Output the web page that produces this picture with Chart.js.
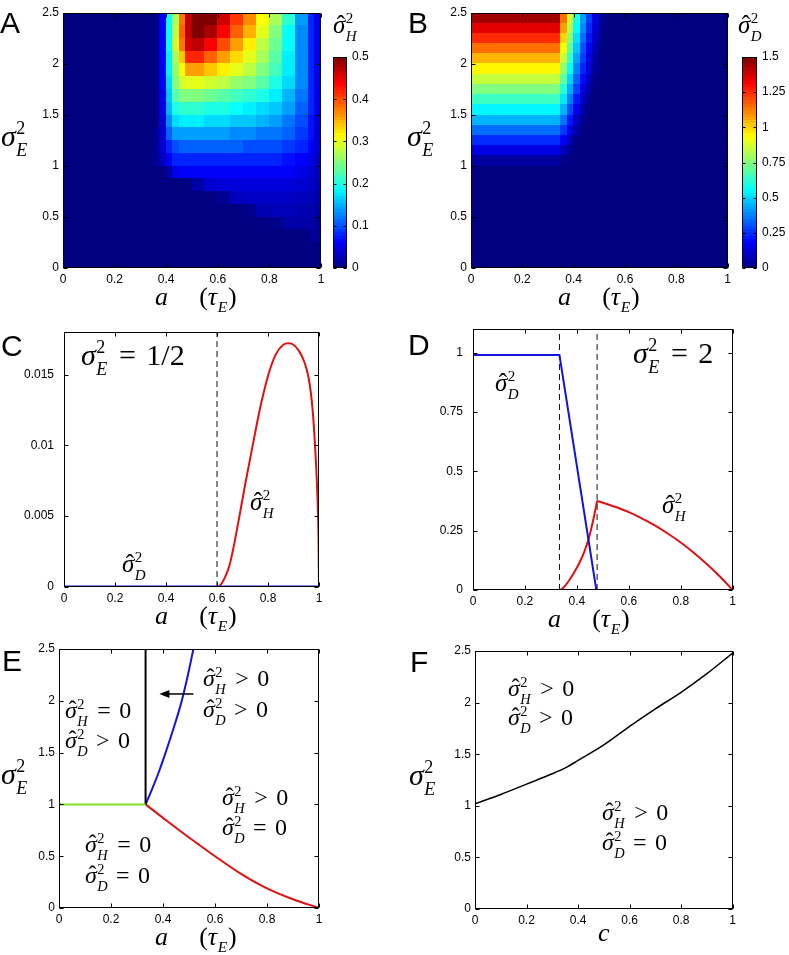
<!DOCTYPE html>
<html><head><meta charset="utf-8">
<script src="https://cdn.jsdelivr.net/npm/chart.js@4.4.0/dist/chart.umd.min.js"></script>
<style>
html,body{margin:0;padding:0;background:#fff;}
body{width:789px;height:955px;position:relative;overflow:hidden;}
canvas{position:absolute;}
.pl{position:absolute;font-family:'Liberation Sans',Arial,sans-serif;line-height:1;color:#000;font-size:30px;white-space:nowrap;}
.lab{position:absolute;font-family:'Liberation Serif','DejaVu Serif',serif;font-style:italic;line-height:1;white-space:nowrap;color:#000;}
.scr{position:relative;display:inline-block;height:0;vertical-align:baseline;}
.sp,.sb{position:absolute;left:0.03em;font-size:0.6em;line-height:1;}
.sp{bottom:0.47em;font-style:normal;}
.sb{bottom:-0.75em;}
.rm{font-style:normal;}
.op{font-style:normal;margin:0 0.35em;}
.hat{position:relative;}
.hc{position:absolute;left:0.15em;top:0.02em;font-style:normal;}
</style></head><body>
<canvas id="cA" width="330" height="295" style="left:0px;top:0px"></canvas>
<canvas id="cAcb" width="64" height="295" style="left:325px;top:0px"></canvas>
<canvas id="cB" width="340" height="295" style="left:395px;top:0px"></canvas>
<canvas id="cBcb" width="55" height="295" style="left:734px;top:0px"></canvas>
<canvas id="cC" width="330" height="320" style="left:0px;top:300px"></canvas>
<canvas id="cD" width="345" height="320" style="left:395px;top:300px"></canvas>
<canvas id="cE" width="330" height="330" style="left:0px;top:610px"></canvas>
<canvas id="cF" width="345" height="330" style="left:395px;top:610px"></canvas>
<div id="labels"></div>
<script>
// ---------------- DATA ----------------
const aTicks = [0, 0.2, 0.4, 0.6, 0.8, 1];
const s2Ticks = [0, 0.5, 1, 1.5, 2, 2.5];
const cbTicksA = [0, 0.1, 0.2, 0.3, 0.4, 0.5];
const cbTicksB = [0, 0.25, 0.5, 0.75, 1, 1.25, 1.5];
const cTicksY = [0, 0.005, 0.01, 0.015];
const dTicksY = [0, 0.25, 0.5, 0.75, 1];

// Panel A heatmap: sigma_H^2 (cell edges in a, cell edges in sigma_E^2 from top)
const xEdgesA = [0, 0.35, 0.375, 0.4, 0.425, 0.45, 0.475, 0.5, 0.55, 0.6, 0.65, 0.7, 0.75, 0.8, 0.85, 0.9, 0.95, 0.975, 1.0];
const yEdgesA = [2.5, 2.375, 2.25, 2.125, 2.0, 1.875, 1.75, 1.625, 1.5, 1.375, 1.25, 1.125, 1.0, 0.875, 0.75, 0.625, 0.5, 0.375, 0.25, 0.125, 0];
const hatH_A = [
 [0, 0, 0.06, 0.19, 0.27, 0.38, 0.47, 0.5, 0.5, 0.46, 0.41, 0.37, 0.31, 0.27, 0.21, 0.14, 0.08, 0.05],
 [0, 0, 0.06, 0.19, 0.28, 0.39, 0.47, 0.5, 0.48, 0.44, 0.39, 0.35, 0.3, 0.25, 0.19, 0.13, 0.08, 0.05],
 [0, 0, 0.06, 0.19, 0.29, 0.38, 0.46, 0.47, 0.44, 0.4, 0.36, 0.32, 0.28, 0.24, 0.19, 0.13, 0.08, 0.05],
 [0, 0, 0.06, 0.18, 0.27, 0.34, 0.42, 0.42, 0.39, 0.36, 0.33, 0.3, 0.27, 0.23, 0.18, 0.13, 0.08, 0.05],
 [0, 0, 0.06, 0.18, 0.26, 0.31, 0.36, 0.36, 0.34, 0.32, 0.3, 0.28, 0.25, 0.22, 0.18, 0.13, 0.08, 0.05],
 [0, 0, 0.06, 0.17, 0.25, 0.29, 0.3, 0.3, 0.29, 0.28, 0.26, 0.25, 0.23, 0.2, 0.17, 0.13, 0.08, 0.05],
 [0, 0, 0.05, 0.16, 0.23, 0.25, 0.25, 0.25, 0.24, 0.23, 0.22, 0.21, 0.2, 0.18, 0.15, 0.12, 0.08, 0.05],
 [0, 0, 0.05, 0.15, 0.2, 0.21, 0.21, 0.21, 0.2, 0.2, 0.19, 0.18, 0.17, 0.16, 0.14, 0.11, 0.08, 0.05],
 [0, 0, 0.04, 0.13, 0.17, 0.18, 0.18, 0.18, 0.17, 0.17, 0.16, 0.16, 0.15, 0.14, 0.12, 0.1, 0.07, 0.04],
 [0, 0.01, 0.04, 0.11, 0.14, 0.14, 0.14, 0.14, 0.14, 0.14, 0.13, 0.13, 0.12, 0.12, 0.11, 0.09, 0.07, 0.04],
 [0, 0.01, 0.04, 0.08, 0.1, 0.11, 0.11, 0.11, 0.11, 0.11, 0.11, 0.1, 0.1, 0.1, 0.09, 0.08, 0.06, 0.04],
 [0, 0.01, 0.03, 0.06, 0.08, 0.08, 0.08, 0.08, 0.08, 0.08, 0.08, 0.08, 0.08, 0.08, 0.07, 0.06, 0.05, 0.03],
 [0, 0, 0, 0.02, 0.05, 0.06, 0.06, 0.06, 0.06, 0.06, 0.06, 0.06, 0.06, 0.06, 0.06, 0.05, 0.04, 0.03],
 [0, 0, 0, 0, 0, 0, 0, 0.02, 0.04, 0.045, 0.045, 0.045, 0.045, 0.045, 0.045, 0.04, 0.035, 0.025],
 [0, 0, 0, 0, 0, 0, 0, 0, 0, 0.01, 0.03, 0.035, 0.035, 0.035, 0.035, 0.03, 0.028, 0.02],
 [0, 0, 0, 0, 0, 0, 0, 0, 0, 0, 0, 0.005, 0.025, 0.028, 0.028, 0.025, 0.022, 0.015],
 [0, 0, 0, 0, 0, 0, 0, 0, 0, 0, 0, 0, 0, 0.005, 0.02, 0.02, 0.018, 0.012],
 [0, 0, 0, 0, 0, 0, 0, 0, 0, 0, 0, 0, 0, 0, 0, 0, 0.01, 0.01],
 [0, 0, 0, 0, 0, 0, 0, 0, 0, 0, 0, 0, 0, 0, 0, 0, 0, 0],
 [0, 0, 0, 0, 0, 0, 0, 0, 0, 0, 0, 0, 0, 0, 0, 0, 0, 0]
];

// Panel B heatmap: sigma_D^2
const xEdgesB = [0, 0.35, 0.375, 0.4, 0.425, 0.45, 0.475, 0.5, 0.525, 1];
const yEdgesB = [2.5, 2.4, 2.3, 2.2, 2.1, 2.0, 1.9, 1.8, 1.7, 1.6, 1.5, 1.4, 1.3, 1.2, 1.1, 1.0, 0];
const hatD_B = [
 [1.45, 1.15, 0.88, 0.6, 0.42, 0.28, 0.14, 0.03, 0],
 [1.35, 1.08, 0.83, 0.56, 0.39, 0.25, 0.12, 0.02, 0],
 [1.25, 1.0, 0.77, 0.52, 0.35, 0.22, 0.1, 0.01, 0],
 [1.15, 0.93, 0.7, 0.48, 0.31, 0.19, 0.07, 0, 0],
 [1.05, 0.86, 0.64, 0.43, 0.28, 0.15, 0.05, 0, 0],
 [0.95, 0.78, 0.57, 0.38, 0.24, 0.12, 0.03, 0, 0],
 [0.85, 0.7, 0.5, 0.33, 0.2, 0.08, 0.01, 0, 0],
 [0.75, 0.62, 0.44, 0.28, 0.15, 0.05, 0, 0, 0],
 [0.65, 0.53, 0.37, 0.22, 0.1, 0.02, 0, 0, 0],
 [0.55, 0.45, 0.3, 0.16, 0.06, 0, 0, 0, 0],
 [0.45, 0.36, 0.22, 0.1, 0.02, 0, 0, 0, 0],
 [0.35, 0.27, 0.15, 0.05, 0, 0, 0, 0, 0],
 [0.25, 0.18, 0.08, 0.01, 0, 0, 0, 0, 0],
 [0.15, 0.09, 0.02, 0, 0, 0, 0, 0, 0],
 [0.05, 0.02, 0, 0, 0, 0, 0, 0, 0],
 [0, 0, 0, 0, 0, 0, 0, 0, 0]
];

// Panel C (sigma_E^2 = 1/2)
const cA_H = [0, 0.6, 0.62, 0.65, 0.688, 0.71, 0.74, 0.77, 0.8, 0.83, 0.86, 0.88, 0.9, 0.92, 0.94, 0.96, 0.975, 0.985, 0.993, 0.998, 1.0];
const cH   = [0, 0, 0.0003, 0.0016, 0.005, 0.0072, 0.01, 0.0127, 0.0149, 0.0164, 0.0171, 0.0172, 0.0171, 0.0167, 0.016, 0.0147, 0.0125, 0.0098, 0.0068, 0.0035, 0];
const cA_D = [0, 1];
const cD   = [0, 0];
const dashC = [0.6];

// Panel D (sigma_E^2 = 2)
const dA_D = [0, 0.333, 0.475, 1];
const dD   = [0.99, 0.99, 0, 0];
const dA_Hrise = [0, 0.333, 0.35, 0.37, 0.39, 0.41, 0.43, 0.447, 0.463, 0.478];
const dHrise   = [0, 0, 0.012, 0.04, 0.075, 0.115, 0.165, 0.222, 0.295, 0.375];
const dA_Hfall = [0.478, 0.5, 0.55, 0.6, 0.65, 0.7, 0.75, 0.8, 0.85, 0.9, 0.95, 1.0];
const dHfall   = [0.375, 0.368, 0.35, 0.328, 0.302, 0.272, 0.238, 0.2, 0.157, 0.11, 0.058, 0];
const dashD = [0.333, 0.478];

// Panel E (phase boundaries)
const eGreenA = [0, 0.333];       const eGreen = [1, 1];
const eBlackA = [0.333, 0.333];   const eBlack = [1, 2.5];
const eBlueA = [0.333, 0.36, 0.385, 0.41, 0.44, 0.47, 0.495, 0.517];
const eBlue  = [1, 1.16, 1.32, 1.5, 1.73, 1.98, 2.24, 2.5];
const eRedA = [0.333, 0.4, 0.5, 0.6, 0.7, 0.8, 0.9, 1.0];
const eRed  = [1, 0.87, 0.68, 0.5, 0.33, 0.19, 0.085, 0];
const arrowFromE = [0.517, 2.066];
const arrowToE   = [0.386, 2.066];

// Panel F
const fC = [0, 0.1, 0.2, 0.3, 0.36, 0.4, 0.5, 0.6, 0.7, 0.8, 0.9, 1.0];
const fS = [1.02, 1.11, 1.21, 1.31, 1.38, 1.44, 1.59, 1.77, 1.94, 2.1, 2.28, 2.48];

// ---------------- RENDERING ----------------
Chart.defaults.font.family = "'Liberation Sans', Arial, sans-serif";
Chart.defaults.font.size = 12;
Chart.defaults.color = '#000';

function jet(t) {
  t = Math.max(0, Math.min(1, t));
  const f = v => Math.round(255 * Math.max(0, Math.min(1, v)));
  return `rgb(${f(1.5 - Math.abs(4*t - 3))},${f(1.5 - Math.abs(4*t - 2))},${f(1.5 - Math.abs(4*t - 1))})`;
}
const fmt = v => String(Math.round(v * 1e6) / 1e6);
const pts = (xs, ys) => xs.map((x, i) => ({x: x, y: ys[i]}));
function line(xs, ys, color, width, extra) {
  return Object.assign({data: pts(xs, ys), showLine: true, pointRadius: 0, borderColor: color,
    backgroundColor: color, borderWidth: width, fill: false, tension: 0}, extra || {});
}

function heatPlugin(xEdges, yEdges, rows, vmax) {
  return {id: 'heat', beforeDatasetsDraw(chart) {
    const {ctx, chartArea: ca, scales: {x, y}} = chart;
    ctx.save();
    ctx.beginPath(); ctx.rect(ca.left, ca.top, ca.right - ca.left, ca.bottom - ca.top); ctx.clip();
    for (let i = 0; i < rows.length; i++) {
      const ya = y.getPixelForValue(yEdges[i]), yb = y.getPixelForValue(yEdges[i + 1]);
      const t0 = Math.floor(Math.min(ya, yb)), t1 = Math.ceil(Math.max(ya, yb));
      for (let j = 0; j < rows[i].length; j++) {
        const xa = x.getPixelForValue(xEdges[j]), xb = x.getPixelForValue(xEdges[j + 1]);
        ctx.fillStyle = jet(rows[i][j] / vmax);
        ctx.fillRect(Math.floor(xa), t0, Math.ceil(xb) - Math.floor(xa), t1 - t0);
      }
    }
    ctx.restore();
  }};
}
function cbPlugin(vmax) {
  return {id: 'cb', beforeDatasetsDraw(chart) {
    const {ctx, chartArea: ca, scales: {y}} = chart;
    const n = 64;
    for (let k = 0; k < n; k++) {
      const p0 = y.getPixelForValue(vmax * k / n), p1 = y.getPixelForValue(vmax * (k + 1) / n);
      ctx.fillStyle = jet((k + 0.5) / n);
      ctx.fillRect(ca.left, Math.floor(p1), ca.right - ca.left, Math.ceil(p0) - Math.floor(p1));
    }
  }};
}
function framePlugin(len, xTicks, yTicks) {
  return {id: 'frame', afterDraw(chart) {
    const {ctx, chartArea: ca, scales} = chart;
    ctx.save();
    ctx.strokeStyle = '#000'; ctx.lineWidth = 1;
    const L = Math.round(ca.left) + 0.5, R = Math.round(ca.right) - 0.5;
    const T = Math.round(ca.top) + 0.5, B = Math.round(ca.bottom) - 0.5;
    ctx.strokeRect(L, T, R - L, B - T);
    ctx.beginPath();
    (xTicks || []).forEach(v => {
      const p = Math.round(scales.x.getPixelForValue(v)) + 0.5;
      ctx.moveTo(p, B); ctx.lineTo(p, B - len); ctx.moveTo(p, T); ctx.lineTo(p, T + len);
    });
    (yTicks || []).forEach(v => {
      const p = Math.round(scales.y.getPixelForValue(v)) + 0.5;
      ctx.moveTo(L, p); ctx.lineTo(L + len, p); ctx.moveTo(R, p); ctx.lineTo(R - len, p);
    });
    ctx.stroke();
    ctx.restore();
  }};
}
function arrowPlugin(from, to) {
  return {id: 'arrow', afterDatasetsDraw(chart) {
    const {ctx, scales: {x, y}} = chart;
    const x0 = x.getPixelForValue(from[0]), y0 = y.getPixelForValue(from[1]);
    const x1 = x.getPixelForValue(to[0]), y1 = y.getPixelForValue(to[1]);
    ctx.save();
    ctx.strokeStyle = '#000'; ctx.fillStyle = '#000'; ctx.lineWidth = 1.5;
    ctx.beginPath(); ctx.moveTo(x0, y0); ctx.lineTo(x1 + 8, y1); ctx.stroke();
    ctx.beginPath(); ctx.moveTo(x1, y1); ctx.lineTo(x1 + 10, y1 - 4); ctx.lineTo(x1 + 10, y1 + 4); ctx.closePath(); ctx.fill();
    ctx.restore();
  }};
}

function makeChart(id, s) {
  const XH = s.xHidden ? 0 : 20;
  const tickCommon = {autoSkip: false, maxRotation: 0, minRotation: 0, color: '#000', font: {size: 12}, callback: fmt};
  const scales = {
    x: {type: 'linear', min: s.xMin, max: s.xMax, display: !s.xHidden,
      afterBuildTicks: sc => { sc.ticks = (s.xTicks || []).map(v => ({value: v})); },
      afterFit: sc => { sc.height = XH; },
      grid: {display: false, drawTicks: false}, border: {display: false},
      ticks: Object.assign({padding: 4}, tickCommon)},
    y: {type: 'linear', min: s.yMin, max: s.yMax, position: s.yRight ? 'right' : 'left',
      afterBuildTicks: sc => { sc.ticks = s.yTicks.map(v => ({value: v})); },
      afterFit: sc => { sc.width = s.yRight ? (s.cw - s.area.right) : s.area.left; },
      grid: {display: false, drawTicks: false}, border: {display: false},
      ticks: Object.assign({padding: s.yPad || (s.yRight ? 5 : 4)}, tickCommon)}
  };
  const padding = {left: s.yRight ? s.area.left : 0, top: s.area.top,
    right: s.yRight ? 0 : s.cw - s.area.right, bottom: s.ch - s.area.bottom - XH};
  return new Chart(document.getElementById(id), {
    type: 'scatter',
    data: {datasets: s.datasets || []},
    options: {responsive: false, animation: false, events: [], layout: {padding: padding},
      plugins: {legend: {display: false}, tooltip: {enabled: false}}, scales: scales},
    plugins: s.plugins || []
  });
}

const RED = '#e01010', BLUE = '#1414d8', GREEN = '#7fe020', DASH = '#111';

// A
makeChart('cA', {cw: 330, ch: 295, area: {left: 63, top: 13, right: 321, bottom: 268},
  xMin: 0, xMax: 1, yMin: 0, yMax: 2.5, xTicks: aTicks, yTicks: s2Ticks,
  plugins: [heatPlugin(xEdgesA, yEdgesA, hatH_A, 0.5), framePlugin(4, aTicks, s2Ticks)]});
makeChart('cAcb', {cw: 64, ch: 295, area: {left: 8, top: 57, right: 22, bottom: 268}, xHidden: true, yRight: true,
  xMin: 0, xMax: 1, yMin: 0, yMax: 0.5, yTicks: cbTicksA,
  plugins: [cbPlugin(0.5), framePlugin(3, null, cbTicksA)]});
// B
makeChart('cB', {cw: 340, ch: 295, area: {left: 76, top: 13, right: 333, bottom: 268},
  xMin: 0, xMax: 1, yMin: 0, yMax: 2.5, xTicks: aTicks, yTicks: s2Ticks,
  plugins: [heatPlugin(xEdgesB, yEdgesB, hatD_B, 1.5), framePlugin(4, aTicks, s2Ticks)]});
makeChart('cBcb', {cw: 55, ch: 295, area: {left: 8, top: 57, right: 23, bottom: 268}, xHidden: true, yRight: true,
  xMin: 0, xMax: 1, yMin: 0, yMax: 1.5, yTicks: cbTicksB,
  plugins: [cbPlugin(1.5), framePlugin(3, null, cbTicksB)]});
// C
makeChart('cC', {cw: 330, ch: 320, area: {left: 64, top: 32, right: 319, bottom: 287}, yPad: 10,
  xMin: 0, xMax: 1, yMin: 0, yMax: 0.018, xTicks: aTicks, yTicks: cTicksY,
  datasets: [
    line(cA_D, cD, BLUE, 3, {order: 0}),
    line(cA_H, cH, RED, 2, {order: 1, cubicInterpolationMode: 'monotone'}),
    line([dashC[0], dashC[0]], [0, 0.018], DASH, 1, {order: 2, borderDash: [6, 4]})
  ],
  plugins: [framePlugin(4, aTicks, cTicksY)]});
// D
makeChart('cD', {cw: 345, ch: 320, area: {left: 78, top: 29, right: 340, bottom: 290}, yPad: 10,
  xMin: 0, xMax: 1, yMin: 0, yMax: 1.1, xTicks: aTicks, yTicks: dTicksY,
  datasets: [
    line(dA_D, dD, BLUE, 2, {order: 0}),
    line(dA_Hrise, dHrise, RED, 2, {order: 1, cubicInterpolationMode: 'monotone'}),
    line(dA_Hfall, dHfall, RED, 2, {order: 1, cubicInterpolationMode: 'monotone'}),
    line([dashD[0], dashD[0]], [0, 1.1], DASH, 1, {order: 2, borderDash: [6, 4]}),
    line([dashD[1], dashD[1]], [0, 1.1], DASH, 1, {order: 2, borderDash: [6, 4]})
  ],
  plugins: [framePlugin(4, aTicks, dTicksY)]});
// E
makeChart('cE', {cw: 330, ch: 330, area: {left: 59, top: 39, right: 319, bottom: 298},
  xMin: 0, xMax: 1, yMin: 0, yMax: 2.5, xTicks: aTicks, yTicks: s2Ticks,
  datasets: [
    line(eGreenA, eGreen, GREEN, 2),
    line(eBlackA, eBlack, '#000', 2),
    line(eBlueA, eBlue, BLUE, 2, {cubicInterpolationMode: 'monotone'}),
    line(eRedA, eRed, RED, 2, {cubicInterpolationMode: 'monotone'})
  ],
  plugins: [arrowPlugin(arrowFromE, arrowToE), framePlugin(4, aTicks, s2Ticks)]});
// F
makeChart('cF', {cw: 345, ch: 330, area: {left: 80, top: 41, right: 339, bottom: 299},
  xMin: 0, xMax: 1, yMin: 0, yMax: 2.5, xTicks: aTicks, yTicks: s2Ticks,
  datasets: [line(fC, fS, '#000', 1.5, {cubicInterpolationMode: 'monotone'})],
  plugins: [framePlugin(4, aTicks, s2Ticks)]});

// ---------------- TEXT LABELS ----------------
function scr(sup, sub, w) {
  return `<span class="scr" style="width:${w || 0.45}em">` +
    (sup ? `<span class="sp">${sup}</span>` : '') +
    (sub ? `<span class="sb"${sup ? '' : ' style="bottom:-0.6em"'}>${sub}</span>` : '') + `</span>`;
}
const sig = s => `σ${scr('2', s, 0.42)}`;
const sigh = s => `<span class="hat">σ<span class="hc">ˆ</span></span>${scr('2', s, s === 'H' ? 0.5 : 0.45)}`;
const op = o => `<span class="op">${o}</span>`;
const rm = t => `<span class="rm">${t}</span>`;
const aLab = `a<span style="display:inline-block;width:1.2em"></span>${rm('(')}τ${scr('', 'E', 0.42)}${rm(')')}`;

const panelLetters = [['A', 0, 33], ['B', 408, 33], ['C', 1, 356], ['D', 408, 355], ['E', 2, 671], ['F', 410, 672]];
const mathLabels = [
  [1, 146, 30, sig('E')], [407, 146, 30, sig('E')], [1, 784, 30, sig('E')], [409, 785, 30, sig('E')],
  [333, 33, 25, sigh('H')], [738, 33, 25, sigh('D')],
  [155, 306, 26, aLab], [558, 306, 26, aLab], [155, 625, 26, aLab], [548, 628, 26, aLab], [155, 946, 26, aLab],
  [598, 942, 26, 'c'],
  [81, 365, 30, sig('E') + op('=') + rm('1/2')],
  [122, 572, 25, sigh('D')], [250, 510, 25, sigh('H')],
  [495, 391, 25, sigh('D')], [633, 363, 30, sig('E') + op('=') + rm('2')], [662, 513, 25, sigh('H')],
  [65, 718, 24, sigh('H') + op('=') + rm('0')], [65, 748, 24, sigh('D') + op('&gt;') + rm('0')],
  [203, 686, 24, sigh('H') + op('&gt;') + rm('0')], [203, 717, 24, sigh('D') + op('&gt;') + rm('0')],
  [222, 805, 24, sigh('H') + op('&gt;') + rm('0')], [222, 835, 24, sigh('D') + op('=') + rm('0')],
  [85, 852, 24, sigh('H') + op('=') + rm('0')], [85, 883, 24, sigh('D') + op('=') + rm('0')],
  [508, 696, 24, sigh('H') + op('&gt;') + rm('0')], [508, 725, 24, sigh('D') + op('&gt;') + rm('0')],
  [602, 820, 24, sigh('H') + op('&gt;') + rm('0')], [602, 850, 24, sigh('D') + op('=') + rm('0')]
];
const host = document.getElementById('labels');
panelLetters.forEach(([t, x, b]) => {
  const d = document.createElement('div'); d.className = 'pl'; d.textContent = t;
  d.style.left = x + 'px'; d.style.top = (b - 0.8465 * 30) + 'px'; host.appendChild(d);
});
mathLabels.forEach(([x, b, s, h]) => {
  const d = document.createElement('div'); d.className = 'lab'; d.innerHTML = h;
  d.style.left = x + 'px'; d.style.top = (b - 0.8375 * s) + 'px'; d.style.fontSize = s + 'px'; host.appendChild(d);
});
</script>
</body></html>
